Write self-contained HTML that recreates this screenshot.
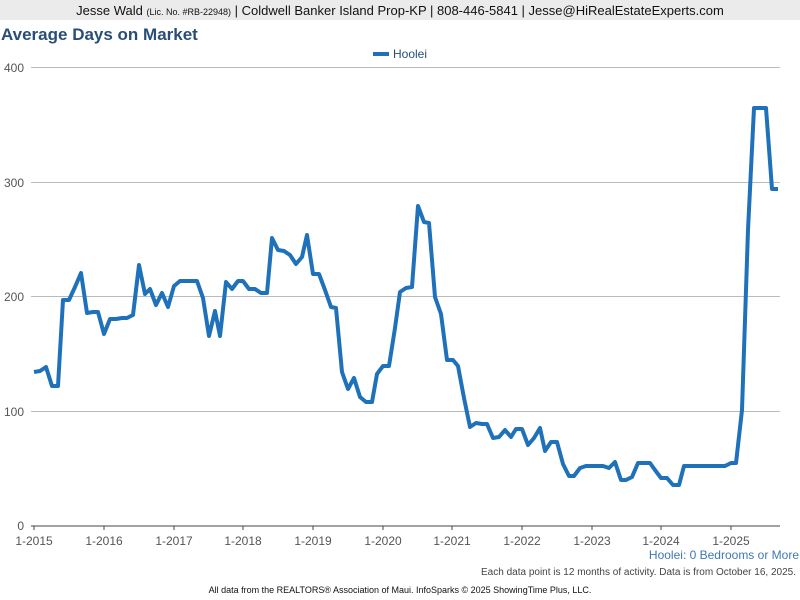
<!DOCTYPE html>
<html><head><style>
body{margin:0;width:800px;height:600px;background:#fff;font-family:"Liberation Sans",sans-serif;position:relative;overflow:hidden}
.hdr{position:absolute;left:0;top:0;width:800px;height:20px;background:#ebebeb;font-size:13px;text-align:center;line-height:21px;color:#111}
.hdr small{font-size:9px}
.t{position:absolute;left:1px;top:25px;font-size:17px;font-weight:bold;color:#2a4d78}
</style></head><body>
<div class="hdr">Jesse Wald <small>(Lic. No. #RB-22948)</small> | Coldwell Banker Island Prop-KP | 808-446-5841 | Jesse@HiRealEstateExperts.com</div>
<div class="t">Average Days on Market</div>
<svg width="800" height="600" style="position:absolute;left:0;top:0" font-family="Liberation Sans, sans-serif">
<g stroke="#bbb" stroke-width="1">
<line x1="31" y1="67.5" x2="780" y2="67.5"/><line x1="31" y1="182.5" x2="780" y2="182.5"/><line x1="31" y1="296.5" x2="780" y2="296.5"/><line x1="31" y1="411.5" x2="780" y2="411.5"/>
</g>
<line x1="31" y1="526" x2="780" y2="526" stroke="#444"/>
<g stroke="#444">
<line x1="34" y1="526" x2="34" y2="530"/><line x1="104" y1="526" x2="104" y2="530"/><line x1="174" y1="526" x2="174" y2="530"/><line x1="243" y1="526" x2="243" y2="530"/><line x1="313" y1="526" x2="313" y2="530"/><line x1="383" y1="526" x2="383" y2="530"/><line x1="452" y1="526" x2="452" y2="530"/><line x1="522" y1="526" x2="522" y2="530"/><line x1="592" y1="526" x2="592" y2="530"/><line x1="661" y1="526" x2="661" y2="530"/><line x1="731" y1="526" x2="731" y2="530"/>
</g>
<g font-size="12" fill="#555" text-anchor="end">
<text x="24" y="72">400</text><text x="24" y="187">300</text><text x="24" y="301">200</text><text x="24" y="416">100</text><text x="24" y="530">0</text>
</g>
<g font-size="12" fill="#555" text-anchor="middle">
<text x="34" y="545">1-2015</text><text x="104" y="545">1-2016</text><text x="174" y="545">1-2017</text><text x="243" y="545">1-2018</text><text x="313" y="545">1-2019</text><text x="383" y="545">1-2020</text><text x="452" y="545">1-2021</text><text x="522" y="545">1-2022</text><text x="592" y="545">1-2023</text><text x="661" y="545">1-2024</text><text x="731" y="545">1-2025</text>
</g>
<rect x="373" y="52" width="16" height="4" fill="#1f72ba"/>
<text x="393" y="58" font-size="12" fill="#2a4d78">Hoolei</text>
<polyline fill="none" stroke="#1f72ba" stroke-width="4" stroke-linejoin="round" points="34,372 40,371 46,367 52,386 58,386 63,300 69,300 75,287 81,273 87,313 93,312 98,312 104,334 110,319 116,319 122,318 127,318 133,315 139,265 145,294 150,289 156,305 162,293 168,307 174,286 180,281 185,281 191,281 197,281 203,298 209,336 215,311 220,336 226,282 232,289 238,281 243,281 249,289 255,289 261,293 267,293 272,238 278,250 284,251 290,255 296,264 302,257 307,235 313,274 319,274 325,290 331,307 336,308 342,372 348,389 354,378 360,397 366,402 372,402 377,374 383,366 389,366 395,328 400,292 406,288 412,287 418,206 424,222 429,223 435,297 441,314 447,360 453,360 458,366 464,398 470,427 476,423 482,424 487,424 493,438 499,437 505,430 511,437 516,429 522,429 528,445 534,438 540,428 545,451 551,442 557,442 563,464 569,476 574,476 580,468 586,466 592,466 598,466 603,466 609,468 615,462 621,480 626,480 632,477 638,463 644,463 650,463 655,470 661,478 667,478 673,485 679,485 684,466 690,466 725,466 731,463 736,463 742,410 748,230 754,108 760,108 766,108 772,189 778,189"/>
<text x="799" y="559" font-size="12" fill="#3f78b4" text-anchor="end">Hoolei: 0 Bedrooms or More</text>
<text x="796" y="575" font-size="10" fill="#444" text-anchor="end">Each data point is 12 months of activity. Data is from October 16, 2025.</text>
<text x="400" y="593" font-size="9" fill="#111" text-anchor="middle">All data from the REALTORS® Association of Maui. InfoSparks © 2025 ShowingTime Plus, LLC.</text>
</svg>
</body></html>
